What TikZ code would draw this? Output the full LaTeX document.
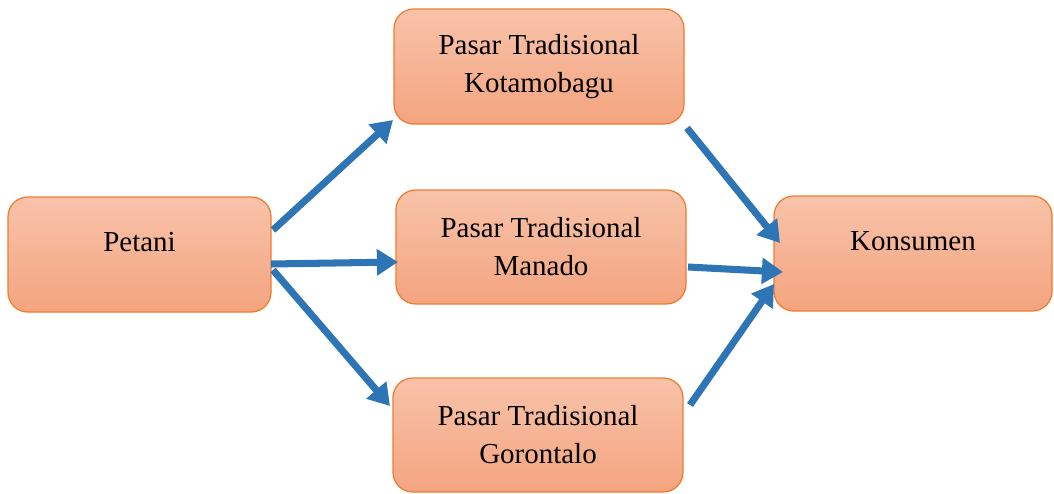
\documentclass[tikz,border=0pt]{standalone}
\usepackage{fontspec}
\setmainfont{Liberation Serif}
\usetikzlibrary{arrows.meta}
\definecolor{boxtop}{HTML}{F8C3AA}
\definecolor{boxbot}{HTML}{F4A47F}
\definecolor{boxline}{HTML}{ED7D31}
\definecolor{arrowblue}{HTML}{2E75B6}
\begin{document}
\begin{tikzpicture}[x=0.025cm,y=-0.025cm,
  box/.style={draw=boxline, line width=0.9pt, rounded corners=14pt,
    top color=boxtop, bottom color=boxbot, align=center,
    font=\fontsize{20.6}{27}\selectfont, inner sep=0pt},
  boxtext/.style={font=\fontsize{20.6}{27}\selectfont, yshift=0.31cm},
  flow/.style={draw=arrowblue, line width=5pt,
    -{Triangle[width=18pt,length=15pt]}}]
\useasboundingbox (0,0) rectangle (1054,494);
\node[box, minimum width=263*0.025cm, minimum height=115*0.025cm,
  label={[boxtext]center:Petani}] (pet) at (139.5,254.5) {};
\node[box, minimum width=290*0.025cm, minimum height=115*0.025cm] (kot) at (539,66.5) {Pasar Tradisional\\Kotamobagu};
\node[box, minimum width=290*0.025cm, minimum height=114*0.025cm] (man) at (541,247) {Pasar Tradisional\\Manado};
\node[box, minimum width=290*0.025cm, minimum height=114*0.025cm] (gor) at (538,435) {Pasar Tradisional\\Gorontalo};
\node[box, minimum width=278*0.025cm, minimum height=115*0.025cm,
  label={[boxtext]center:Konsumen}] (kon) at (913,253.5) {};
% arrow end points
\coordinate (a1s) at (273,230); \coordinate (a1e) at (393,120);
\coordinate (a2s) at (271,264); \coordinate (a2e) at (398,262);
\coordinate (a3s) at (273,270); \coordinate (a3e) at (390,406);
\coordinate (a4s) at (687,128); \coordinate (a4e) at (780,243);
\coordinate (a5s) at (688,267); \coordinate (a5e) at (783,272);
\coordinate (a6s) at (690,405); \coordinate (a6e) at (774,284);
\draw[flow] (a1s) -- (a1e);
\draw[flow] (a2s) -- (a2e);
\draw[flow] (a3s) -- (a3e);
\draw[flow] (a4s) -- (a4e);
\draw[flow] (a5s) -- (a5e);
\draw[flow] (a6s) -- (a6e);
\end{tikzpicture}
\end{document}
